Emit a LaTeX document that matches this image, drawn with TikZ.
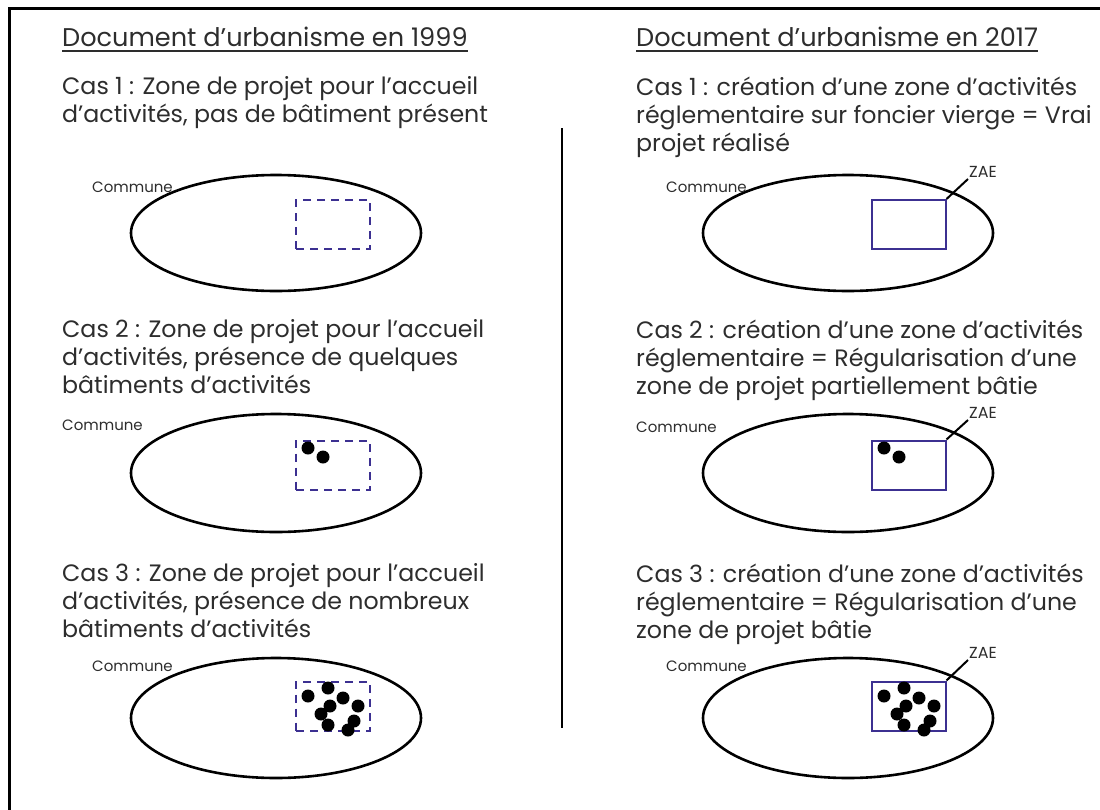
\documentclass[tikz,border=0pt]{standalone}
\usepackage{fontspec}
\setmainfont{Poppins}
\usetikzlibrary{positioning}
\definecolor{zaeblue}{RGB}{60,48,145}
\definecolor{textgrey}{RGB}{45,45,45}
\tikzset{
    frame_line/.style={line width=3pt, black},
    sep_line/.style={line width=2.4pt, black},
    commune_edge/.style={line width=2.6pt, black},
    zone_old/.style={draw=zaeblue, line width=2pt, dash pattern=on 8pt off 6pt, minimum width=74pt, minimum height=49pt, inner sep=0pt},
    zone_new/.style={draw=zaeblue, line width=2pt, minimum width=74pt, minimum height=49pt, inner sep=0pt},
    case_text/.style={anchor=north west, inner sep=0pt, align=left, text=textgrey, font=\fontsize{23.7}{28}\selectfont, execute at begin node=\strut},
    title_text/.style={anchor=base west, inner sep=0pt, text=textgrey, font=\fontsize{25.6}{30}\selectfont},
    commune_label/.style={anchor=base west, inner sep=0pt, text=textgrey, font=\fontsize{15}{17}\selectfont},
    zae_label/.style={anchor=south west, inner sep=1pt, text=textgrey, font=\fontsize{16}{18}\selectfont},
    zae_link/.style={line width=2pt, black},
    bati/.style={black}
}

\begin{document}
\begin{tikzpicture}[x=1pt, y=-1pt]
        \useasboundingbox (0,0) rectangle (1100,809);
        % cadre
        \draw[frame_line] (9,815) -- (9,8) -- (1105,8);
        \draw[sep_line] (562,128) -- (562,728);
        % titres
        \node[title_text] (t1) at (62,46) {Document d’urbanisme en 1999};
        \node[title_text] (t2) at (636,46) {Document d’urbanisme en 2017};
        \foreach \t in {t1,t2}
            \draw[line width=1.8pt, textgrey] ([yshift=-5pt]\t.base west) -- ([yshift=-5pt]\t.base east);
        % textes des cas (haut du strut = ligne de base - 19.6)
        \node[case_text] (a1) at (62,76.4) {Cas 1 : Zone de projet pour l’accueil\\d’activités, pas de bâtiment présent};
        \node[case_text] (a2) at (62,319.4) {Cas 2 : Zone de projet pour l’accueil\\d’activités, présence de quelques\\bâtiments d’activités};
        \node[case_text] (a3) at (62,563.4) {Cas 3 : Zone de projet pour l’accueil\\d’activités, présence de nombreux\\bâtiments d’activités};
        \node[case_text] (b1) at (636,76.4) {Cas 1 : création d’une zone d’activités\\réglementaire sur foncier vierge = Vrai\\projet réalisé};
        \node[case_text] (b2) at (636,319.4) {Cas 2 : création d’une zone d’activités\\réglementaire = Régularisation d’une\\zone de projet partiellement bâtie};
        \node[case_text] (b3) at (636,563.4) {Cas 3 : création d’une zone d’activités\\réglementaire = Régularisation d’une\\zone de projet bâtie};
        % communes
        \foreach \dx in {0,572} {
            \draw[commune_edge] (276+\dx,233) ellipse [x radius=145, y radius=58];
            \draw[commune_edge] (276+\dx,473) ellipse [x radius=145, y radius=59];
            \draw[commune_edge] (276+\dx,718) ellipse [x radius=145, y radius=60];
        }
        \node[commune_label] (c1) at (92,192) {Commune};
        \node[commune_label] (c2) at (62,430) {Commune};
        \node[commune_label] (c3) at (92,671) {Commune};
        \node[commune_label] (d1) at (666,192) {Commune};
        \node[commune_label] (d2) at (636,432) {Commune};
        \node[commune_label] (d3) at (666,671) {Commune};
        % zones de projet (1999)
        \node[zone_old] (p1) at (333,224.5) {};
        \node[zone_old] (p2) at (333,465) {};
        \node[zone_old] (p3) at (333,706) {};
        % ZAE (2017)
        \node[zone_new] (z1) at (908.5,224.5) {};
        \node[zone_new] (z2) at (908.5,465) {};
        \node[zone_new] (z3) at (908.5,706) {};
        \node[zae_label] (l1) at (968,179) {ZAE};
        \node[zae_label] (l2) at (968,420) {ZAE};
        \node[zae_label] (l3) at (968,660) {ZAE};
        \foreach \i in {1,2,3}
            \draw[zae_link] (z\i.north east) -- (l\i.south west);
        % batiments
        \foreach \dx in {0,576} {
            \foreach \x/\y in {308/448, 323/457}
                \fill[bati] (\x+\dx,\y) circle (6.5);
            \foreach \x/\y in {308/696, 328/688, 343/698, 358/706, 330/706, 321/714, 328/725, 354/721, 348/730}
                \fill[bati] (\x+\dx,\y) circle (6.5);
        }
    \end{tikzpicture}
\end{document}
